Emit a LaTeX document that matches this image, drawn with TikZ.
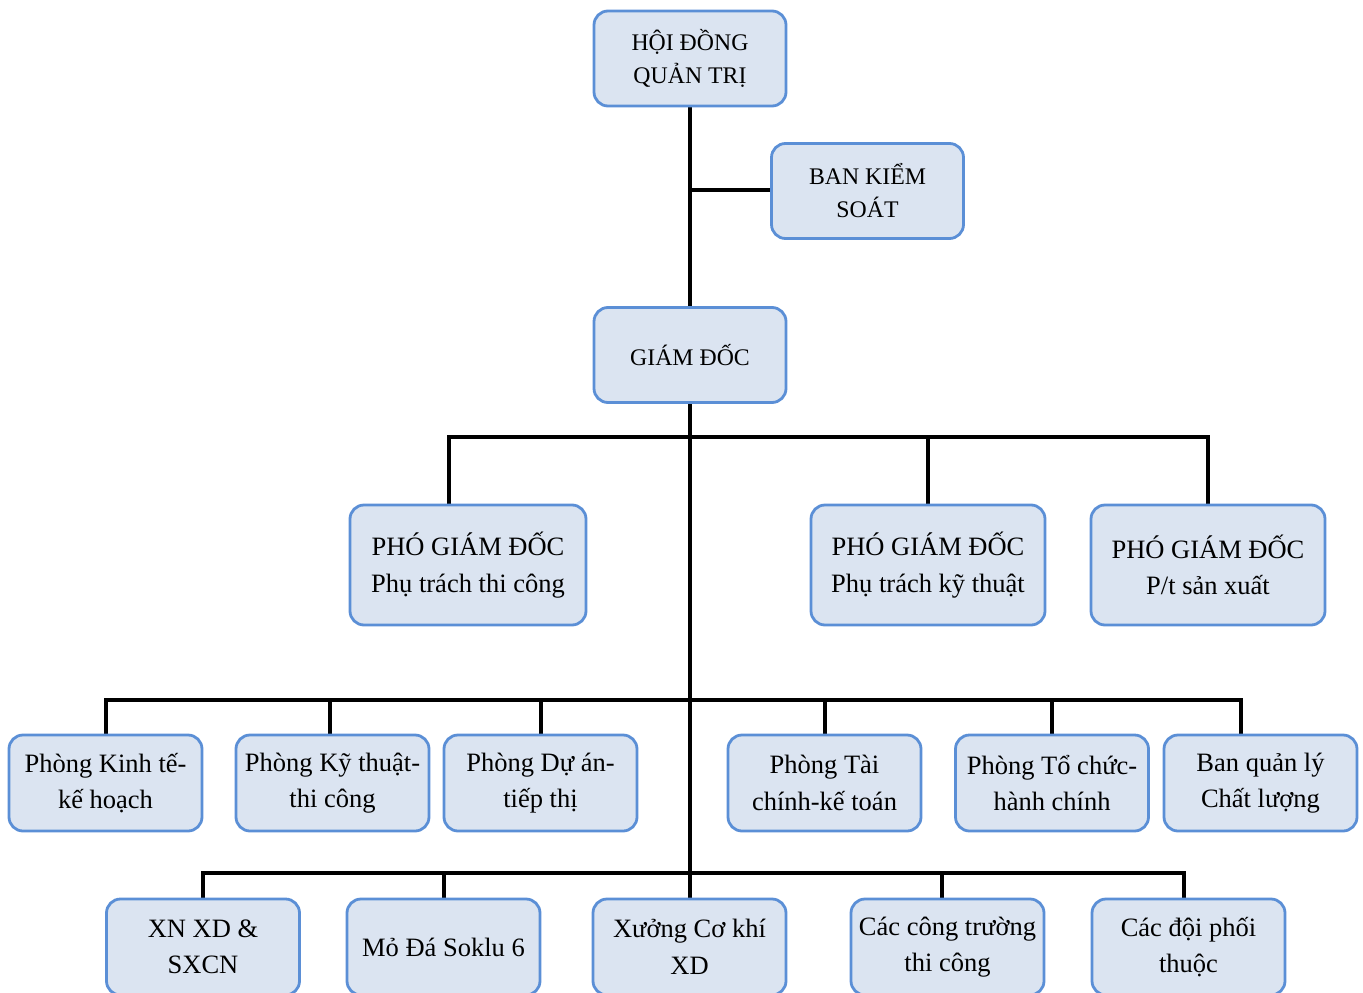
\documentclass[tikz,border=0pt]{standalone}
\usepackage{fontspec}
\setmainfont{Liberation Serif}
\definecolor{boxfill}{HTML}{DBE4F1}
\definecolor{boxline}{HTML}{5B8FD6}
\pgfdeclarelayer{bg}
\pgfsetlayers{bg,main}
\begin{document}
\begin{tikzpicture}[x=1pt,y=-1pt,
 box/.style={draw=boxline, fill=boxfill, line width=2.8pt, rounded corners=14pt, align=center, inner sep=0pt},
 topbox/.style={box, font=\fontsize{23.8}{33}\selectfont, minimum width=192pt, minimum height=95pt},
 lowbox/.style={box, font=\fontsize{26.5}{36.5}\selectfont, minimum width=193pt, minimum height=96pt},
 pgdbox/.style={box, font=\fontsize{26.5}{36.5}\selectfont, minimum width=234pt, minimum height=120pt},
 conn/.style={line width=3.2pt, draw=black}]
\useasboundingbox (0,0) rectangle (1363,993);
\clip (0,0) rectangle (1363,993);
% top
\node[topbox] (hdqt) at (690,58.5) {HỘI ĐỒNG\\QUẢN TRỊ};
\node[topbox] (bks) at (867.5,191) {BAN KIỂM\\SOÁT};
\node[topbox] (gd) at (690,355) {GIÁM ĐỐC};
% deputies
\node[pgdbox, minimum width=236pt] (pgd1) at (468,565) {PHÓ GIÁM ĐỐC\\Phụ trách thi công};
\node[pgdbox] (pgd2) at (928,565) {PHÓ GIÁM ĐỐC\\Phụ trách kỹ thuật};
\node[pgdbox] (pgd3) at (1208,565) {PHÓ GIÁM ĐỐC\\P/t sản xuất};
% departments
\node[lowbox] (d1) at (105.5,783) {Phòng Kinh tế-\\kế hoạch};
\node[lowbox] (d2) at (332.5,783) {Phòng Kỹ thuật-\\thi công};
\node[lowbox] (d3) at (540.5,783) {Phòng Dự án-\\tiếp thị};
\node[lowbox] (d4) at (824.5,783) {Phòng Tài\\chính-kế toán};
\node[lowbox] (d5) at (1052,783) {Phòng Tổ chức-\\hành chính};
\node[lowbox] (d6) at (1260.5,783) {Ban quản lý\\Chất lượng};
% units
\node[lowbox] (u1) at (203,947) {XN XD \&\\SXCN};
\node[lowbox] (u2) at (443.5,947) {Mỏ Đá Soklu 6};
\node[lowbox] (u3) at (689.5,947) {Xưởng Cơ khí\\XD};
\node[lowbox] (u4) at (947.5,947) {Các công trường\\thi công};
\node[lowbox] (u5) at (1188.5,947) {Các đội phối\\thuộc};
% junctions
\coordinate (jb) at (690,190);
\coordinate (b1l) at (449,437);
\coordinate (b1m) at (928,437);
\coordinate (b1r) at (1208,437);
\coordinate (b2a) at (106,700);
\coordinate (b2b) at (330,700);
\coordinate (b2c) at (541,700);
\coordinate (b2d) at (825,700);
\coordinate (b2e) at (1052,700);
\coordinate (b2f) at (1241,700);
\coordinate (b3a) at (203,873);
\coordinate (b3b) at (444,873);
\coordinate (b3d) at (942,873);
\coordinate (b3e) at (1184,873);
\begin{pgfonlayer}{bg}
\draw[conn] (hdqt.south) -- (gd.north);
\draw[conn] (jb) -- (jb -| bks.west);
\draw[conn] (gd.south) -- (u3.north -| gd.south);
\draw[conn] (b1l |- pgd1.north) -- (b1l) -- (b1r) -- (b1r |- pgd3.north);
\draw[conn] (b1m) -- (b1m |- pgd2.north);
\draw[conn] (b2a |- d1.north) -- (b2a) -- (b2f) -- (b2f |- d6.north);
\draw[conn] (b2b) -- (b2b |- d2.north);
\draw[conn] (b2c) -- (b2c |- d3.north);
\draw[conn] (b2d) -- (b2d |- d4.north);
\draw[conn] (b2e) -- (b2e |- d5.north);
\draw[conn] (b3a |- u1.north) -- (b3a) -- (b3e) -- (b3e |- u5.north);
\draw[conn] (b3b) -- (b3b |- u2.north);
\draw[conn] (b3d) -- (b3d |- u4.north);
\end{pgfonlayer}
\end{tikzpicture}
\end{document}
